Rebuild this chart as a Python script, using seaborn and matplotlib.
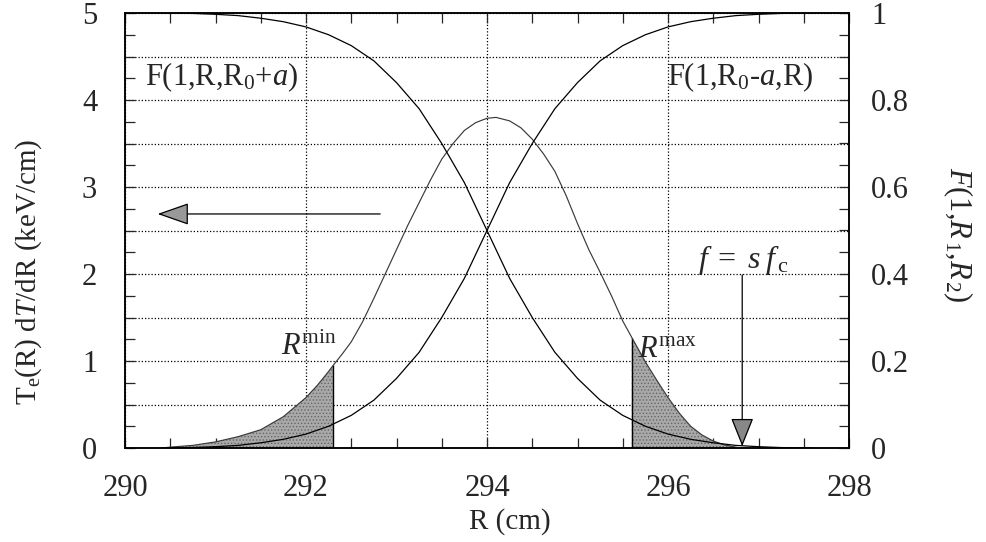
import matplotlib
matplotlib.use("Agg")
import matplotlib.pyplot as plt
import seaborn as sns
import numpy as np
from matplotlib.ticker import MultipleLocator, FuncFormatter

# ---------------- data ----------------
R_bell = [290.4, 290.5, 290.75, 291.0, 291.25, 291.5, 291.75, 292.0, 292.125, 292.25, 292.3,
          292.4, 292.5, 292.625, 292.75, 292.875, 293.0, 293.125, 293.25, 293.375, 293.5,
          293.625, 293.75, 293.875, 294.0, 294.1, 294.25, 294.375, 294.5, 294.625, 294.75,
          294.875, 295.0, 295.125, 295.25, 295.375, 295.5, 295.6, 295.75, 295.875, 296.0,
          296.125, 296.25, 296.375, 296.5, 296.625, 296.75, 296.8]
bell = [0.0, 0.01, 0.03, 0.07, 0.13, 0.21, 0.36, 0.58, 0.72, 0.88, 0.95,
        1.08, 1.22, 1.45, 1.72, 2.0, 2.28, 2.56, 2.82, 3.08, 3.32,
        3.50, 3.65, 3.74, 3.79, 3.80, 3.76, 3.68, 3.55, 3.38, 3.18,
        2.90, 2.58, 2.28, 2.02, 1.75, 1.46, 1.27, 0.99, 0.78, 0.58,
        0.40, 0.25, 0.15, 0.08, 0.035, 0.01, 0.0]

R_sig = [290.4, 290.75, 291.0, 291.25, 291.5, 291.75, 292.0, 292.25, 292.5, 292.75,
         293.0, 293.25, 293.5, 293.75, 294.0, 294.25, 294.5, 294.75, 295.0, 295.25,
         295.5, 295.75, 296.0, 296.25, 296.5, 296.75, 297.0, 297.25, 297.6]
F_dec = [1.0, 0.999, 0.997, 0.994, 0.988, 0.980, 0.968, 0.950, 0.925, 0.89,
         0.84, 0.78, 0.70, 0.61, 0.50, 0.39, 0.30, 0.22, 0.16, 0.11,
         0.075, 0.05, 0.032, 0.02, 0.012, 0.006, 0.003, 0.001, 0.0]
F_inc = [0.0, 0.001, 0.003, 0.006, 0.012, 0.02, 0.032, 0.05, 0.075, 0.11,
         0.16, 0.22, 0.30, 0.39, 0.50, 0.61, 0.70, 0.78, 0.84, 0.89,
         0.925, 0.95, 0.968, 0.98, 0.988, 0.994, 0.997, 0.999, 1.0]

R_min = 292.3
R_max = 295.6
f_pos = 296.82

x_ticks = [290, 292, 294, 296, 298]
y_left_ticks = [0, 1, 2, 3, 4, 5]
y_right_ticks = [0, 0.2, 0.4, 0.6, 0.8, 1]

# ---------------- style ----------------
sns.set_style("ticks")
plt.rcParams['font.family'] = ['Liberation Serif', 'DejaVu Serif']
plt.rcParams['mathtext.fontset'] = 'custom'
plt.rcParams['mathtext.rm'] = 'Liberation Serif'
plt.rcParams['mathtext.it'] = 'Liberation Serif:italic'
plt.rcParams['mathtext.bf'] = 'Liberation Serif:bold'
plt.rcParams['hatch.color'] = '#555555'
plt.rcParams['hatch.linewidth'] = 0.6

FS = 22

fig = plt.figure(figsize=(9.87, 5.42), dpi=100)
ax = fig.add_axes([125/987, 1-448/542, 724/987, 435/542])
ax2 = ax.twinx()

Rb = np.array(R_bell)
Bb = np.array(bell)

# shaded regions
for mask in (Rb <= R_min, Rb >= R_max):
    ax.fill_between(Rb, 0, Bb, where=mask, facecolor='#a9a9a9', edgecolor='none', zorder=2)
    ax.fill_between(Rb, 0, Bb, where=mask, facecolor='none', edgecolor='#666666',
                    hatch='.....', linewidth=0, zorder=2)
ax.vlines([R_min, R_max], 0, [bell[R_bell.index(R_min)], bell[R_bell.index(R_max)]],
          color='black', lw=1.0, zorder=3)

sns.lineplot(x=R_bell, y=bell, ax=ax, color='#3a3a3a', lw=0.85, zorder=4)
sns.lineplot(x=R_sig, y=F_dec, ax=ax2, color='black', lw=0.9, zorder=4)
sns.lineplot(x=R_sig, y=F_inc, ax=ax2, color='black', lw=0.9, zorder=4)

ax.set_xlim(290, 298)
ax.set_ylim(0, 5)
ax2.set_ylim(0, 1)

# ticks
ax.xaxis.set_minor_locator(MultipleLocator(0.5))
ax.yaxis.set_major_locator(MultipleLocator(0.5))
ax.yaxis.set_minor_locator(MultipleLocator(0.25))
ax.yaxis.set_major_formatter(FuncFormatter(
    lambda v, p: f"{int(round(v))}" if abs(v - round(v)) < 1e-6 and round(v) in y_left_ticks else ""))
ax.set_xticks(x_ticks)
ax.set_xticklabels([str(t) for t in x_ticks])

ax2.yaxis.set_major_locator(MultipleLocator(0.1))
ax2.yaxis.set_minor_locator(MultipleLocator(0.05))
def rfmt(v, p):
    for t in y_right_ticks:
        if abs(v - t) < 1e-6:
            return "0" if t == 0 else ("1" if t == 1 else f"{t:.1f}")
    return ""
ax2.yaxis.set_major_formatter(FuncFormatter(rfmt))

ax.tick_params(axis='x', which='both', direction='in', top=True, bottom=True,
               length=7, width=0.9, labelsize=FS, pad=19)
ax.tick_params(axis='y', which='both', direction='in', left=True, right=False,
               length=7, width=0.9, labelsize=FS, pad=20)
ax2.tick_params(axis='y', which='both', direction='in', right=True, left=False,
                length=7, width=0.9, labelsize=FS, pad=16)

ax.grid(True, which='major', color='black', linestyle=(0, (1, 1.6)), lw=0.9)
ax.set_axisbelow(True)

for a in (ax, ax2):
    for s in a.spines.values():
        s.set_linewidth(1.1)
        s.set_color('black')
        s.set_visible(True)

# labels
ax.set_xlabel("R (cm)", fontsize=21)
ax.xaxis.set_label_coords((510-125)/724, -(508-448)/435)
ax.set_ylabel(r"T$_{\rm e}$(R) d$T$/dR (keV/cm)", fontsize=21)
ax.yaxis.set_label_coords((44-125)/724, (448-272)/435)
ax2.set_ylabel(r"$F$(1,$R_{\,1}$,$R_{\,2}$)", fontsize=22, rotation=270)
ax2.yaxis.set_label_coords((975-125)/724, (448-235)/435)
ax2.set_xlabel("")

# annotations
ax.text(290.22, 4.26, r"F(1,R,R$_0$+$a$)", fontsize=FS, ha='left', va='center', zorder=6)
ax.text(295.99, 4.26, r"F(1,R$_0$-$a$,R)", fontsize=FS, ha='left', va='center', zorder=6)
ax.text(291.72, 1.07, r"$R^{\rm min}$", fontsize=FS, ha='left', va='baseline', zorder=6)
ax.text(295.67, 1.05, r"$R^{\rm max}$", fontsize=FS, ha='left', va='baseline', zorder=6)
ax.text(296.33, 2.16, r"$f\;=\;s\;f_{\,\rm c}$", fontsize=23, ha='left', va='center', zorder=6)

ax.annotate("", xy=(290.36, 2.69), xytext=(292.82, 2.69),
            arrowprops=dict(arrowstyle='-|>,head_length=2.0,head_width=0.7',
                            mutation_scale=10, facecolor='#999999', edgecolor='black',
                            lw=0.9, shrinkA=0, shrinkB=0), zorder=6)
ax.annotate("", xy=(f_pos, 0.02), xytext=(f_pos, 1.99),
            arrowprops=dict(arrowstyle='-|>,head_length=1.8,head_width=0.72',
                            mutation_scale=10, facecolor='#888888', edgecolor='black',
                            lw=0.9, shrinkA=0, shrinkB=0), zorder=6)

fig.savefig("out.png", dpi=100)
